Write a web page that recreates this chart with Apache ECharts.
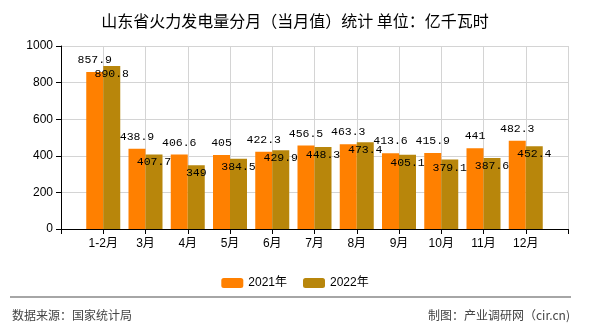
<!DOCTYPE html>
<html><head><meta charset="utf-8">
<script src="https://cdn.jsdelivr.net/npm/echarts@6/dist/echarts.min.js"></script>
<style>html,body{margin:0;padding:0;background:#fff}#c{width:590px;height:330px}</style>
</head><body><div id="c"></div>
<script>
var categories = ['1-2月','3月','4月','5月','6月','7月','8月','9月','10月','11月','12月'];
var values2021 = [857.9,438.9,406.6,405,422.3,456.5,463.3,413.6,415.9,441,482.3];
var values2022 = [890.8,407.7,349,384.5,429.9,448.3,473.4,405.1,379.1,387.6,452.4];
var seriesNames = ['2021年','2022年'];
var yTicks = [0,200,400,600,800,1000];

var cats = [''].concat(categories, ['']);
function pad(a){ return ['-'].concat(a, ['-']); }
var labelFont = {fontFamily:'Liberation Mono, monospace', fontSize:11.5, color:'#000'};
var chart = echarts.init(document.getElementById('c'));
chart.setOption({
  animation:false,
  backgroundColor:'#fff',
  title:{text:'山东省火力发电量分月（当月值）统计 单位：亿千瓦时', left:'center', top:8,
    textStyle:{fontSize:16, fontWeight:'normal', color:'#000', fontFamily:'Noto Sans CJK SC'}},
  grid:{left:61, right:22, top:46, bottom:101, containLabel:false},
  legend:{data:seriesNames, left:'center', top:272, itemWidth:22, itemHeight:10, itemGap:16,
    textStyle:{fontSize:12, color:'#000', fontFamily:'Liberation Sans, Noto Sans CJK SC'}},
  xAxis:{type:'category', data:cats, boundaryGap:false,
    axisLine:{lineStyle:{color:'#000'}},
    axisTick:{show:true, length:5, lineStyle:{color:'#000'}},
    axisLabel:{color:'#000', fontSize:12, margin:9, interval:0, fontFamily:'Liberation Sans, Noto Sans CJK SC'},
    splitLine:{show:true, lineStyle:{color:'#d4d4d4'}}},
  yAxis:{type:'value', min:yTicks[0], max:yTicks[yTicks.length-1], interval:200,
    axisLine:{show:true, lineStyle:{color:'#000'}},
    axisTick:{show:true, length:5, lineStyle:{color:'#000'}},
    axisLabel:{color:'#000', fontSize:12, margin:8, fontFamily:'Liberation Sans', formatter:function(v){return String(v);}},
    splitLine:{show:true, lineStyle:{color:'#d4d4d4'}}},
  series:[
    {name:seriesNames[0], type:'bar', data:pad(values2021), barWidth:17, barGap:'0%',
     itemStyle:{color:'#FF8000'},
     label:Object.assign({show:true, position:'top', distance:6}, labelFont)},
    {name:seriesNames[1], type:'bar', data:pad(values2022), barWidth:17, barGap:'0%',
     itemStyle:{color:'#B8860B'},
     label:Object.assign({show:true, position:'insideTop', distance:2}, labelFont)}
  ],
  graphic:[
    {type:'line', shape:{x1:10, y1:297, x2:571, y2:297}, style:{stroke:'#888', lineWidth:1.5}},
    {type:'text', left:12, top:309, style:{text:'数据来源：国家统计局', fontSize:12, fill:'#444', fontFamily:'Noto Sans CJK SC'}},
    {type:'text', right:20, top:309, style:{text:'制图：产业调研网（cir.cn)', fontSize:12, fill:'#444', fontFamily:'Noto Sans CJK SC'}}
  ]
});
</script></body></html>
